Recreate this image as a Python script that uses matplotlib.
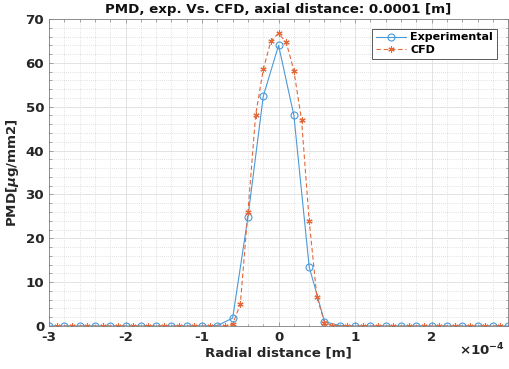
import numpy as np
import matplotlib
matplotlib.use("Agg")
import matplotlib.pyplot as plt
from matplotlib.ticker import MultipleLocator, FuncFormatter

# Data (x in units of 1e-4 m)
exp_x = [-3.0, -2.8, -2.6, -2.4, -2.2, -2.0, -1.8, -1.6, -1.4, -1.2, -1.0, -0.8, -0.6, -0.4, -0.2,
         0.0, 0.2, 0.4, 0.6, 0.8, 1.0, 1.2, 1.4, 1.6, 1.8, 2.0, 2.2, 2.4, 2.6, 2.8, 3.0]
exp_y = [0, 0, 0, 0, 0, 0, 0, 0, 0, 0, 0, 0.1, 1.8, 24.9, 52.4,
         64.0, 48.0, 13.5, 1.0, 0.1, 0, 0, 0, 0, 0, 0, 0, 0, 0, 0, 0]

cfd_x = [-2.9, -2.7, -2.5, -2.3, -2.1, -1.9, -1.7, -1.5, -1.3, -1.1, -0.9, -0.7,
         -0.6, -0.5, -0.4, -0.3, -0.2, -0.1, 0.0, 0.1, 0.2, 0.3, 0.4, 0.5, 0.6,
         0.7, 0.9, 1.1, 1.3, 1.5, 1.7, 1.9, 2.1, 2.3, 2.5, 2.7, 2.9]
cfd_y = [0, 0, 0, 0, 0, 0, 0, 0, 0, 0, 0, 0,
         0.4, 5.0, 26.1, 48.1, 58.5, 65.0, 66.7, 64.7, 58.2, 47.0, 24.0, 6.7, 0.8,
         0.1, 0, 0, 0, 0, 0, 0, 0, 0, 0, 0, 0]

x_ticks = [-3, -2, -1, 0, 1, 2]
y_ticks = [0, 10, 20, 30, 40, 50, 60, 70]

scale = 1e-4
plt.rcParams['font.family'] = ['DejaVu Sans']
plt.rcParams['font.weight'] = 'bold'

fs = 9.6
fig = plt.figure(figsize=(5.09, 3.69), dpi=100)
ax = fig.add_axes([0.0963, 0.1165, 0.902, 0.832])

blue = '#4a9ad8'
orange = '#e3683a'
ax.plot(np.array(exp_x) * scale, exp_y, '-o', color=blue, lw=0.8, ms=5,
        mfc='none', mew=0.8, label='Experimental')
ax.plot(np.array(cfd_x) * scale, cfd_y, '--', marker=(6, 2, 0), color=orange, lw=0.8, ms=4.5,
        mfc='none', mew=0.8, dashes=(4, 2.5), label='CFD')

ax.set_xlim(-3e-4, 3e-4)
ax.set_ylim(0, 70)
ax.set_xticks(np.array(x_ticks) * scale)
ax.xaxis.set_major_formatter(FuncFormatter(lambda v, p: f"{round(v/scale):d}"))
ax.set_yticks(y_ticks)
ax.xaxis.set_minor_locator(MultipleLocator(0.2e-4))
ax.yaxis.set_minor_locator(MultipleLocator(2))

ax.grid(True, which='major', color='#dedede', lw=0.6, ls='-')
ax.grid(True, which='minor', color='#c8c8c8', lw=0.5, ls=(0, (1, 2)))
ax.set_axisbelow(True)

ax.tick_params(which='both', direction='in', top=True, right=True, colors='#262626',
               labelsize=fs)
ax.tick_params(which='major', length=3, width=0.5, color='#808080')
ax.tick_params(which='minor', length=1.8, width=0.5, color='#808080')
for lab in ax.get_xticklabels() + ax.get_yticklabels():
    lab.set_fontweight('bold')
for s in ax.spines.values():
    s.set_color('#808080')
    s.set_linewidth(0.6)

ax.set_title('PMD, exp. Vs. CFD, axial distance: 0.0001 [m]', fontsize=fs,
             fontweight='bold', pad=4, color='#111111')
ax.set_xlabel('Radial distance [m]', fontsize=fs, fontweight='bold', labelpad=2,
              color='#262626')
ax.set_ylabel(r'PMD[$\mu$g/mm2]', fontsize=fs, fontweight='bold', labelpad=3,
              color='#262626')

fig.text(0.992, 0.03, r'$\times\mathregular{10^{-4}}$', ha='right', va='bottom',
         fontsize=fs, color='#262626')

leg = ax.legend(loc='upper right', bbox_to_anchor=(0.988, 0.987), fontsize=8.0,
                frameon=True, fancybox=False, edgecolor='#404040', framealpha=1,
                handlelength=2.7, borderpad=0.35, labelspacing=0.2, handletextpad=0.4)
leg.get_frame().set_linewidth(0.6)
for t in leg.get_texts():
    t.set_fontweight('bold')

fig.savefig('out.png', dpi=100)
